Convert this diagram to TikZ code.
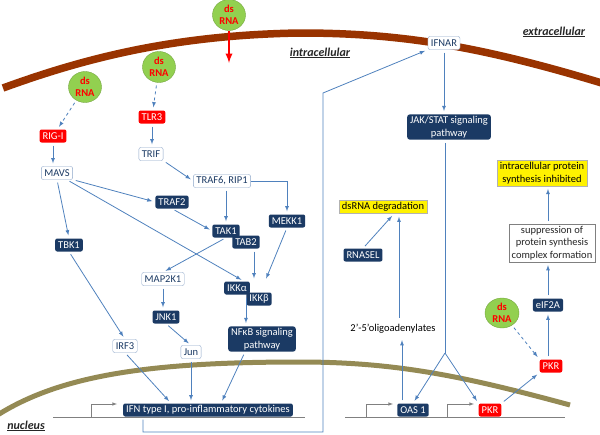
\documentclass[tikz,border=0pt]{standalone}
\usepackage{fontspec}
\setmainfont{Carlito}
\usetikzlibrary{shapes.geometric}
\definecolor{navy}{RGB}{27,58,100}
\definecolor{arrowblue}{RGB}{79,129,189}
\definecolor{paleblue}{RGB}{140,165,200}
\definecolor{membrown}{RGB}{153,51,0}
\definecolor{nucolive}{RGB}{148,138,84}
\definecolor{rnagreen}{RGB}{146,208,80}
\tikzstyle{every node}=[font=\fontsize{10.5}{12.5}\selectfont]
\tikzstyle{darkbox}=[fill=navy, text=white, rounded corners=2pt, inner xsep=3pt, inner ysep=2pt, minimum height=13pt]
\tikzstyle{redbox}=[fill=red, text=white, rounded corners=2pt, inner xsep=3pt, inner ysep=2pt, minimum height=13pt]
\tikzstyle{whitebox}=[draw=paleblue, fill=white, text=navy, rounded corners=2pt, inner xsep=3pt, inner ysep=2pt, minimum height=13pt]
\tikzstyle{yellowbox}=[draw=black!30, fill=yellow, text=black, inner xsep=3pt, inner ysep=2pt, align=center]
\tikzstyle{greybox}=[draw=black!50, fill=white, text=black!85, inner xsep=3pt, inner ysep=2pt, align=center]
\tikzstyle{rna}=[ellipse, draw=rnagreen!80!black, fill=rnagreen, text=red, inner sep=0pt, minimum width=33pt, minimum height=31pt, align=center, font=\fontsize{10.5}{12}\selectfont\bfseries]
\tikzstyle{region}=[text=black!85, font=\fontsize{12}{14}\selectfont\bfseries\itshape]
\tikzstyle{arr}=[draw=arrowblue, line width=0.8pt, -latex, shorten >=3pt, shorten <=3pt]
\tikzstyle{dasharr}=[arr, dashed]
\tikzstyle{prom}=[draw=black!50, line width=0.6pt, -latex]

\begin{document}
\begin{tikzpicture}[x=1pt, y=-1pt]
\useasboundingbox (0,0) rectangle (600,434);
% Membranes
    \draw[membrown, line width=7.5pt] (3,88) .. controls (80,60) and (170,35) .. (300,33) .. controls (400,33) and (480,46) .. (605,84);
    \draw[nucolive, line width=5pt] (-4,416) .. controls (60,375) and (150,362) .. (300,362) .. controls (400,362) and (470,378) .. (570,405);
% DNA
    \draw[black!50, line width=0.6pt] (53,417) -- (305,417);
    \draw[black!50, line width=0.6pt] (345,417) -- (565,417);
    \draw[prom] (91,417) |- (117,404);
    \draw[prom] (366,417) |- (393,404);
    \draw[prom] (447,417) |- (474,404);
% Compartments
    \node[region] (intra) at (320,53) {\underline{intracellular}};
    \node[region] (extra) at (554,32) {\underline{extracellular}};
    \node[region] (nucl) at (26,426) {\underline{nucleus}};
% dsRNA
    \node[rna] (rnaTop) at (229,15) {ds\\RNA};
    \node[rna] (rnaA) at (85,87) {ds\\RNA};
    \node[rna] (rnaB) at (159,67) {ds\\RNA};
    \node[rna, minimum width=34pt, minimum height=30pt] (rnaC) at (502,313) {ds\\RNA};
    \coordinate (entry) at (229,63);
% Sensors and adaptors
    \node[redbox] (rigi) at (53,136) {RIG-I};
    \node[redbox] (tlr) at (152,117) {TLR3};
    \node[whitebox] (trif) at (151,154) {TRIF};
    \node[whitebox] (mavs) at (57,173) {MAVS};
    \node[whitebox] (traf6) at (222,181) {TRAF6, RIP1};
    \node[darkbox] (traf2) at (172,202) {TRAF2};
    \node[darkbox] (mekk) at (287,221) {MEKK1};
    \node[darkbox] (tak) at (226,231) {TAK1};
    \node[darkbox] (tab) at (246,242) {TAB2};
    \node[darkbox] (tbk) at (69,245) {TBK1};
    \node[whitebox] (map) at (163,279) {MAP2K1};
    \node[darkbox] (ikka) at (237,288) {IKKα};
    \node[darkbox] (ikkb) at (259,299) {IKKβ};
    \node[darkbox] (jnk) at (166,317) {JNK1};
    \node[whitebox] (irf) at (125,346) {IRF3};
    \node[whitebox] (jun) at (191,352) {Jun};
    \node[darkbox, align=center, rounded corners=3pt] (nfkb) at (262,339) {NFκB signaling\\pathway};
    \node[darkbox] (ifn) at (208,410) {IFN type I, pro-inflammatory cytokines};
% Interferon response
    \node[whitebox] (ifnar) at (444,43) {IFNAR};
    \node[darkbox, align=center, rounded corners=3pt] (jak) at (449,127) {JAK/STAT signaling\\pathway};
    \node[yellowbox] (deg) at (383,207) {dsRNA degradation};
    \node[darkbox] (rnasel) at (363,255) {RNASEL};
    \node (oligo) at (393,329) {2’-5’oligoadenylates};
    \node[darkbox] (oas) at (413,410) {OAS 1};
    \node[redbox] (pkrn) at (490,410) {PKR};
    \node[redbox] (pkrc) at (551,366) {PKR};
    \node[darkbox] (eif) at (548,305) {eIF2A};
    \node[greybox] (supp) at (552,243) {suppression of\\protein synthesis\\complex formation};
    \node[yellowbox] (inhib) at (542,173) {intracellular protein\\synthesis inhibited};
    \coordinate (split) at (445,353);
    \coordinate (fb1) at (143,432);
    \coordinate (fb2) at (323,432);
    \coordinate (fb3) at (323,93);
% Connectors
    \draw[red, line width=2.2pt, -latex] (rnaTop.south) -- (entry);
    \draw[dasharr] (rnaA) -- (rigi);
    \draw[dasharr] (rnaB) -- (tlr);
    \draw[arr] (rigi.south) -- (rigi.south |- mavs.north);
    \draw[arr] (tlr.south) -- (tlr.south |- trif.north);
    \draw[arr] (trif.south east) -- (traf6.west);
    \draw[arr] (mavs.south east) -- (traf2.west);
    \draw[arr] ([xshift=-6pt]mavs.south east) -- ([xshift=-6pt]ikka.north east);
    \draw[arr] (mavs.south) -- (tbk.north);
    \draw[arr] (tak.north |- traf6.south) -- (tak.north);
    \draw[arr, shorten <=0pt] (traf6.east) -| (mekk.north);
    \draw[arr] (traf2.south) -- (tak.west);
    \draw[arr] ([xshift=8pt]tab.south) -- ([xshift=8pt]tab.south |- ikka.north);
    \draw[arr] (mekk.south) -- ([xshift=6pt]ikkb.north |- ikka.north);
    \draw[arr] (tak.south) -- (map.north);
    \draw[arr] (map.south) -- (map.south |- jnk.north);
    \draw[arr] (jnk.south) -- (jun.north);
    \draw[arr] (tbk.south) -- (irf.north);
    \draw[arr] ([xshift=-4pt]ikka.south east) -- ([xshift=-4pt]ikka.south east |- nfkb.north);
    \draw[arr] (irf.south) -- ([xshift=48pt]ifn.north west);
    \draw[arr] (jun.south) -- (jun.south |- ifn.north);
    \draw[arr] ([xshift=-17pt]nfkb.south) -- ([xshift=98pt]ifn.north west);
    \draw[arr] (ifn.south -| fb1) -- (fb1) -- (fb2) -- (fb3) -- (ifnar.south west);
    \draw[arr] (ifnar.south) -- (ifnar.south |- jak.north);
    \draw[draw=arrowblue, line width=0.8pt, shorten <=3pt] (split |- jak.south) -- (split);
    \draw[arr, shorten <=0pt] (split) -- (oas.north);
    \draw[arr, shorten <=0pt] (split) -- (pkrn.north west);
    \draw[arr] ([xshift=-11pt]oas.north) -- ([xshift=-11pt]oas.north |- oligo.south);
    \draw[arr] ([xshift=6pt]oligo.north) -- ([xshift=6pt]oligo.north |- deg.south);
    \draw[arr] (rnasel.north) -- ([xshift=11pt]deg.south);
    \draw[arr] (pkrn.north east) -- (pkrc.south west);
    \draw[dasharr] (rnaC) -- (pkrc.north west);
    \draw[arr] (eif.south |- pkrc.north) -- (eif.south);
    \draw[arr] (eif.north) -- (eif.north |- supp.south);
    \draw[arr] (supp.north -| eif) -- (inhib.south -| eif);
\end{tikzpicture}
\end{document}
